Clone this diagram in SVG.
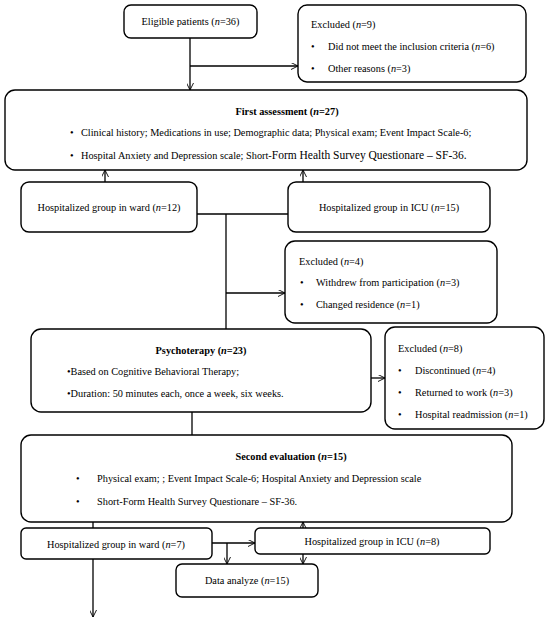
<svg xmlns="http://www.w3.org/2000/svg" width="550" height="624" viewBox="0 0 550 624">
<style>
.box{fill:#fff;stroke:#000;stroke-width:1.4}
text{font-family:"Liberation Serif","Times New Roman",serif;font-size:10.3px;fill:#000}
.c{text-anchor:middle}
.b{font-weight:bold}
.ln{fill:none;stroke:#000;stroke-width:1.3}
</style>
<defs>
<marker id="ar" viewBox="0 0 10 10" refX="10" refY="5" markerWidth="7" markerHeight="7" orient="auto" markerUnits="userSpaceOnUse">
<path d="M0,0 L10,5 L0,10" fill="none" stroke="#000" stroke-width="1.3"/>
</marker>
</defs>
<rect width="550" height="624" fill="#fff"/>
<g id="connectors">
<path class="ln" d="M190,38 V90" marker-end="url(#ar)"/>
<path class="ln" d="M190,66 H298" marker-end="url(#ar)"/>
<path class="ln" d="M105,182 V170" marker-end="url(#ar)"/>
<path class="ln" d="M303,182 V170" marker-end="url(#ar)"/>
<path class="ln" d="M197,214 H288"/>
<path class="ln" d="M226,214 V329"/>
<path class="ln" d="M226,293 H285" marker-end="url(#ar)"/>
<path class="ln" d="M371,378 H385" marker-end="url(#ar)"/>
<path class="ln" d="M192,412 V435"/>
<path class="ln" d="M93,522 V528"/>
<path class="ln" d="M93,559 V617" marker-end="url(#ar)"/>
<path class="ln" d="M212,543 H255" marker-end="url(#ar)"/>
<path class="ln" d="M227,543 V564" marker-end="url(#ar)"/>
<path class="ln" d="M303,528 V522" marker-end="url(#ar)"/>
<path class="ln" d="M303,554 V564" marker-end="url(#ar)"/>
</g>
<g id="eligible">
<rect class="box" x="124" y="5" width="133" height="33" rx="7"/>
<text class="c" x="190.5" y="25">Eligible patients (<tspan font-style="italic">n</tspan>=36)</text>
</g>
<g id="excluded1">
<rect class="box" x="298" y="5" width="228" height="77" rx="9"/>
<text x="311" y="28">Excluded (<tspan font-style="italic">n</tspan>=9)</text>
<text x="311" y="50">•</text>
<text x="328" y="50">Did not meet the inclusion criteria (<tspan font-style="italic">n</tspan>=6)</text>
<text x="311" y="72">•</text>
<text x="328" y="72">Other reasons (<tspan font-style="italic">n</tspan>=3)</text>
</g>
<g id="first">
<rect class="box" x="5" y="90" width="522" height="80" rx="10"/>
<text class="b c" x="287" y="115">First assessment (<tspan font-style="italic">n</tspan>=27)</text>
<text x="70" y="136">•</text>
<text x="81" y="136">Clinical history; Medications in use; Demographic data; Physical exam; Event Impact Scale-6;</text>
<text x="70" y="159">•</text>
<text x="81" y="159">Hospital Anxiety and Depression scale; Short-<tspan font-size="11.5">Form Health Survey Questionare – SF-36.</tspan></text>
</g>
<g id="ward1">
<rect class="box" x="21" y="182" width="176" height="50" rx="8"/>
<text class="c" x="109" y="211">Hospitalized group in ward (<tspan font-style="italic">n</tspan>=12)</text>
</g>
<g id="icu1">
<rect class="box" x="288" y="182" width="202" height="50" rx="8"/>
<text class="c" x="389" y="211">Hospitalized group in ICU (<tspan font-style="italic">n</tspan>=15)</text>
</g>
<g id="excluded2">
<rect class="box" x="285" y="241" width="212" height="82" rx="10"/>
<text x="299" y="265">Excluded (<tspan font-style="italic">n</tspan>=4)</text>
<text x="300" y="286">•</text>
<text x="316" y="286">Withdrew from participation (<tspan font-style="italic">n</tspan>=3)</text>
<text x="300" y="308">•</text>
<text x="316" y="308">Changed residence (<tspan font-style="italic">n</tspan>=1)</text>
</g>
<g id="psycho">
<rect class="box" x="31" y="329" width="340" height="83" rx="10"/>
<text class="b c" x="201" y="354">Psychoterapy (<tspan font-style="italic">n</tspan>=23)</text>
<text x="67" y="375">•Based on Cognitive Behavioral Therapy;</text>
<text x="67" y="397">•Duration: 50 minutes each, once a week, six weeks.</text>
</g>
<g id="excluded3">
<rect class="box" x="385" y="327" width="159" height="102" rx="10"/>
<text x="398" y="352">Excluded (<tspan font-style="italic">n</tspan>=8)</text>
<text x="398" y="374">•</text>
<text x="415" y="374">Discontinued (<tspan font-style="italic">n</tspan>=4)</text>
<text x="398" y="396">•</text>
<text x="415" y="396">Returned to work (<tspan font-style="italic">n</tspan>=3)</text>
<text x="398" y="418">•</text>
<text x="415" y="418">Hospital readmission (<tspan font-style="italic">n</tspan>=1)</text>
</g>
<g id="second">
<rect class="box" x="21" y="435" width="491" height="87" rx="10"/>
<text class="b c" x="291" y="460">Second evaluation (<tspan font-style="italic">n</tspan>=15)</text>
<text x="76" y="482">•</text>
<text x="97" y="482">Physical exam; ; Event Impact Scale-6; Hospital Anxiety and Depression scale</text>
<text x="76" y="505">•</text>
<text x="97" y="505">Short-Form Health Survey Questionare – SF-36.</text>
</g>
<g id="ward2">
<rect class="box" x="21" y="528" width="191" height="31" rx="5"/>
<text class="c" x="116" y="548">Hospitalized group in ward (<tspan font-style="italic">n</tspan>=7)</text>
</g>
<g id="icu2">
<rect class="box" x="255" y="528" width="235" height="26" rx="5"/>
<text class="c" x="372" y="545">Hospitalized group in ICU (<tspan font-style="italic">n</tspan>=8)</text>
</g>
<g id="data">
<rect class="box" x="176" y="564" width="142" height="33" rx="6"/>
<text class="c" x="247" y="584">Data analyze (<tspan font-style="italic">n</tspan>=15)</text>
</g>
</svg>
